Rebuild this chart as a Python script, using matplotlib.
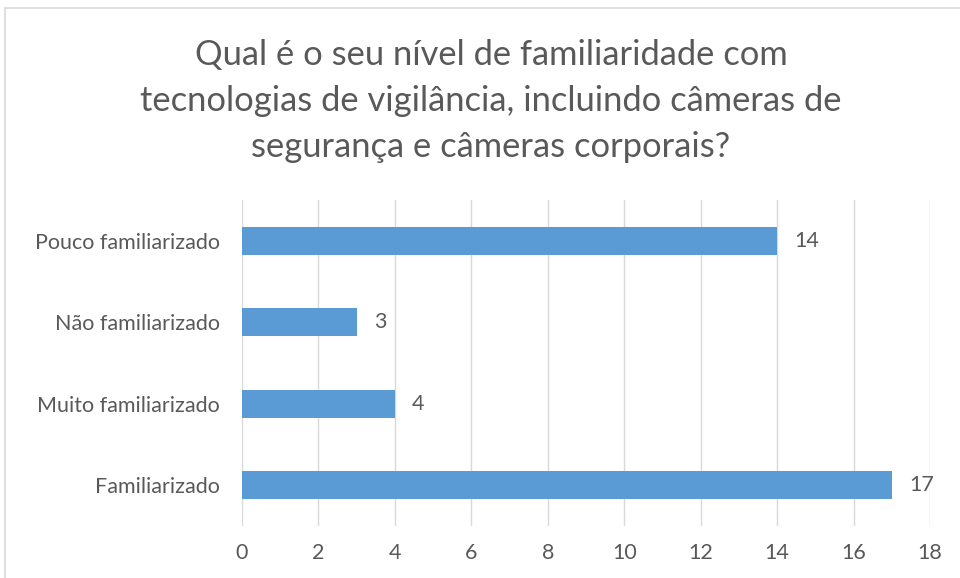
import matplotlib.pyplot as plt
from matplotlib.patches import Rectangle

plt.rcParams['font.family'] = ['Lato', 'DejaVu Sans']

# Data
categories = ["Familiarizado", "Muito familiarizado", "Não familiarizado", "Pouco familiarizado"]
values = [17, 4, 3, 14]
ticks = list(range(0, 19, 2))

title = ("Qual é o seu nível de familiaridade com\n"
         "tecnologias de vigilância, incluindo câmeras de\n"
         "segurança e câmeras corporais?")

text_color = "#595959"
bar_color = "#5B9BD5"
grid_color = "#D9D9D9"

fig = plt.figure(figsize=(9.6, 5.78), dpi=100)

# chart frame (only top/left visible in the crop)
fig.patches.append(Rectangle((5 / 960, -0.1), 1.2, (578 - 8) / 578 + 0.1,
                             transform=fig.transFigure, fill=False,
                             edgecolor=grid_color, linewidth=1.2))

ax = fig.add_axes([242 / 960, (578 - 526) / 578, (930 - 242) / 960, (526 - 200) / 578])

y = range(len(categories))
ax.barh(y, values, height=0.34, color=bar_color, zorder=3)

for yi, v in zip(y, values):
    ax.text(v + 0.45, yi, str(v), va="center", ha="left", fontsize=15.5, color=text_color)

ax.set_xlim(0, 18)
ax.set_ylim(-0.5, len(categories) - 0.5)
ax.set_xticks(ticks)
ax.set_yticks(list(y))
ax.set_yticklabels(categories)
ax.tick_params(axis="both", length=0, labelsize=15.5, colors=text_color)
ax.tick_params(axis="x", pad=12)
ax.tick_params(axis="y", pad=16)
ax.grid(axis="x", color=grid_color, linewidth=1, zorder=0)
for s in ax.spines.values():
    s.set_visible(False)

fig.text(491 / 960, 1 - 101 / 578, title, ha="center", va="center",
         fontsize=24.8, color=text_color, linespacing=1.55)

fig.savefig("out.png", dpi=100)
